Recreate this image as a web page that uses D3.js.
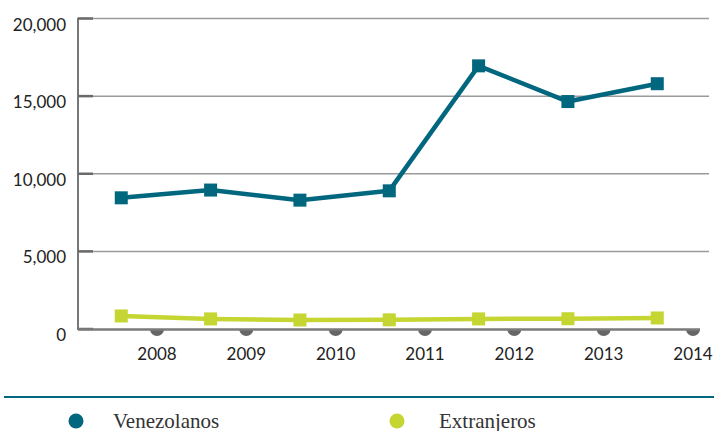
<!DOCTYPE html>
<html>
<head>
<meta charset="utf-8">
<script src="https://cdn.jsdelivr.net/npm/d3@7/dist/d3.min.js"></script>
<style>
  html, body { margin: 0; padding: 0; background: #fff; }
  svg { display: block; }
</style>
</head>
<body>
<svg id="chart" width="714" height="431"></svg>
<script>
const years = ["2008", "2009", "2010", "2011", "2012", "2013", "2014"];
const venezolanos = [8450, 8950, 8300, 8900, 16950, 14650, 15800];
const extranjeros = [840, 650, 580, 590, 650, 660, 710];
const yTicks = [0, 5000, 10000, 15000, 20000];
const seriesNames = ["Venezolanos", "Extranjeros"];
const seriesColors = ["#00677e", "#c5d531"];

const svg = d3.select("#chart");
const plotLeft = 78, plotRight = 709, plotTop = 18.5, plotBottom = 329;

const x = d3.scalePoint().domain(years).range([157, 693]);
const step = x.step();
const y = d3.scaleLinear().domain([0, 20000]).range([plotBottom, plotTop]);
const dataX = (d, i) => x(years[i]) - 0.4 * step;

// gridlines
svg.append("g").selectAll("line").data(yTicks.filter(d => d > 0)).join("line")
  .attr("x1", plotLeft).attr("x2", plotRight)
  .attr("y1", d => y(d)).attr("y2", d => y(d))
  .attr("stroke", "#9a9a9a").attr("stroke-width", 1.5);

// y axis line
svg.append("line").attr("x1", plotLeft).attr("x2", plotLeft)
  .attr("y1", y(20000) - 0.75).attr("y2", y(0) + 1)
  .attr("stroke", "#777").attr("stroke-width", 2);

// y ticks (short darker marks)
svg.append("g").selectAll("line").data(yTicks).join("line")
  .attr("x1", plotLeft).attr("x2", plotLeft + 15)
  .attr("y1", d => y(d)).attr("y2", d => y(d))
  .attr("stroke", "#6a6a6a").attr("stroke-width", 2.5);

// y labels
svg.append("g").selectAll("text").data(yTicks).join("text")
  .attr("x", 66).attr("y", d => y(d) + 12)
  .attr("text-anchor", "end")
  .attr("font-family", "Lato, 'Open Sans', sans-serif")
  .attr("font-size", 17)
  .attr("fill", "#222")
  .text(d => d3.format(",")(d));

// x axis semicircles
svg.append("g").selectAll("path").data(years).join("path")
  .attr("transform", d => `translate(${x(d)},${y(0)})`)
  .attr("d", d3.arc()({innerRadius: 0, outerRadius: 7, startAngle: Math.PI / 2, endAngle: Math.PI * 1.5}))
  .attr("fill", "#666");

// x axis line
svg.append("line").attr("x1", plotLeft).attr("x2", 700)
  .attr("y1", y(0) + 0.5).attr("y2", y(0) + 0.5)
  .attr("stroke", "#7a7a7a").attr("stroke-width", 2.5);

// x labels
svg.append("g").selectAll("text").data(years).join("text")
  .attr("x", d => x(d)).attr("y", 360)
  .attr("text-anchor", "middle")
  .attr("font-family", "Lato, 'Open Sans', sans-serif")
  .attr("font-size", 17)
  .attr("fill", "#222")
  .text(d => d);

// series
const allSeries = [venezolanos, extranjeros];
allSeries.forEach((vals, si) => {
  const line = d3.line().x((d, i) => dataX(d, i)).y(d => y(d));
  svg.append("path").datum(vals)
    .attr("d", line)
    .attr("fill", "none")
    .attr("stroke", seriesColors[si])
    .attr("stroke-width", 4.5)
    .attr("stroke-linejoin", "round");
  svg.append("g").selectAll("rect").data(vals).join("rect")
    .attr("x", (d, i) => dataX(d, i) - 6.5)
    .attr("y", d => y(d) - 6.5)
    .attr("width", 13).attr("height", 13)
    .attr("fill", seriesColors[si]);
});

// legend separator
svg.append("line").attr("x1", 4).attr("x2", 714)
  .attr("y1", 397).attr("y2", 397)
  .attr("stroke", "#00677e").attr("stroke-width", 2);

// legend
const legendX = [76, 397];
const legendTextX = [113, 439];
const leg = svg.append("g").selectAll("g").data(seriesNames).join("g");
leg.append("circle")
  .attr("cx", (d, i) => legendX[i]).attr("cy", 421)
  .attr("r", 7.5).attr("fill", (d, i) => seriesColors[i]);
leg.append("text")
  .attr("x", (d, i) => legendTextX[i]).attr("y", 428)
  .attr("font-family", "'Liberation Serif', serif")
  .attr("font-size", 21)
  .attr("fill", "#333")
  .text(d => d);
</script>
</body>
</html>
